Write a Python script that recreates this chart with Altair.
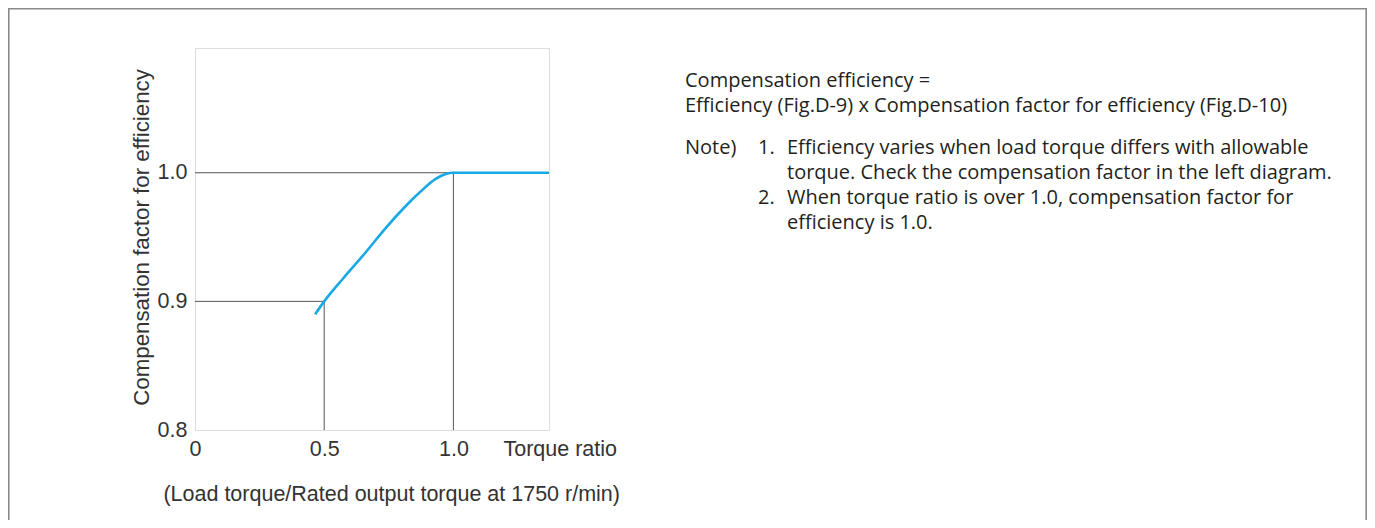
import altair as alt
import pandas as pd

# ---- data ----
curve_x = [0.465, 0.5, 0.574, 0.66, 0.742, 0.81, 0.871, 0.93, 0.97, 1.0, 1.37]
curve_y = [0.890, 0.900, 0.918, 0.938, 0.958, 0.973, 0.985, 0.995, 0.999, 1.0, 1.0]

guide_x = [0.0, 1.0, 0.0, 0.5]
guide_x2 = [1.0, 1.0, 0.5, 0.5]
guide_y = [1.0, 0.8, 0.9, 0.8]
guide_y2 = [1.0, 1.0, 0.9, 0.9]

x_ticks = [0, 0.5, 1.0]
y_ticks = [0.8, 0.9, 1.0]

y_title = "Compensation factor for efficiency"
x_title = "Torque ratio"
x_subtitle = "(Load torque/Rated output torque at 1750 r/min)"

note_texts = [
    "Compensation efficiency =",
    "Efficiency (Fig.D-9) x Compensation factor for efficiency (Fig.D-10)",
    "Note)",
    "1.",
    "Efficiency varies when load torque differs with allowable",
    "torque. Check the compensation factor in the left diagram.",
    "2.",
    "When torque ratio is over 1.0, compensation factor for",
    "efficiency is 1.0.",
]
# layout of the note block (pixels relative to plot origin)
note_px = [490, 490, 490, 563, 592, 592, 563, 592, 592]
note_py = [33, 58, 100, 100, 100, 125, 150, 150, 175]

W, H = 354, 382
XDOM = [0, 1.37]
YDOM = [0.8, 1.097]
FONT = "Liberation Sans"

curve_df = pd.DataFrame({"x": curve_x, "y": curve_y})
guide_df = pd.DataFrame({"x": guide_x, "x2": guide_x2, "y": guide_y, "y2": guide_y2})
note_df = pd.DataFrame({"t": note_texts, "px": note_px, "py": note_py})
one = pd.DataFrame({"a": [0]})

xs = alt.Scale(domain=XDOM, nice=False, zero=False)
ys = alt.Scale(domain=YDOM, nice=False, zero=False)

frame = alt.Chart(one).mark_rect(
    fill="transparent", stroke="#8a8a8a", strokeWidth=1.6
).encode(
    x=alt.value(-186.2), x2=alt.value(1171.2), y=alt.value(-39.2), y2=alt.value(520)
)

guides = alt.Chart(guide_df).mark_rule(color="#555555", strokeWidth=1).encode(
    x=alt.X("x:Q", scale=xs,
            axis=alt.Axis(values=x_ticks, ticks=False, domain=False, grid=False,
                          labelExpr="datum.value == 0 ? '0' : format(datum.value, '.1f')",
                          labelFlush=False, labelOverlap=False,
                          labelFont=FONT, labelFontSize=21.5, labelColor="#333333",
                          labelPadding=8, title=x_title, titleFont=FONT,
                          titleFontSize=21.5, titleFontWeight="normal", titleColor="#333333",
                          titleX=308, titleY=19, titleAlign="left", titleBaseline="middle",
                          titleAnchor="start")),
    x2="x2:Q",
    y=alt.Y("y:Q", scale=ys,
            axis=alt.Axis(values=y_ticks, format=".1f", ticks=False, domain=False, grid=False,
                          labelFlush=False, labelOverlap=False,
                          labelFont=FONT, labelFontSize=21.5, labelColor="#333333",
                          labelPadding=8, title=y_title, titleFont=FONT,
                          titleFontSize=22.3, titleFontWeight="normal", titleColor="#333333",
                          titleX=-54, titleY=189, titleAngle=270, titleAlign="center",
                          titleBaseline="middle")),
    y2="y2:Q",
)

curve = alt.Chart(curve_df).mark_line(
    color="#18a8e4", strokeWidth=2.6, interpolate="monotone"
).encode(x=alt.X("x:Q", scale=xs), y=alt.Y("y:Q", scale=ys))

subtitle = alt.Chart(one).mark_text(
    text=x_subtitle, font=FONT, fontSize=21.5, color="#333333", align="center", baseline="middle"
).encode(x=alt.value(196.7), y=alt.value(447))

notes = alt.Chart(note_df).mark_text(
    font="Open Sans", fontSize=20, color="#231f20", align="left", baseline="middle"
).encode(
    x=alt.X("px:Q", scale=None), y=alt.Y("py:Q", scale=None), text="t:N"
)

chart = alt.layer(frame, guides, curve, subtitle, notes).properties(
    width=W, height=H,
    padding={"left": 187, "top": 40, "right": 818, "bottom": 90},
    autosize=alt.AutoSizeParams(type="none"),
).configure_view(stroke="#5a5a5a", strokeWidth=1.3).configure(background="white")

chart.save("out.html", embed_options={"renderer": "svg", "actions": False})
